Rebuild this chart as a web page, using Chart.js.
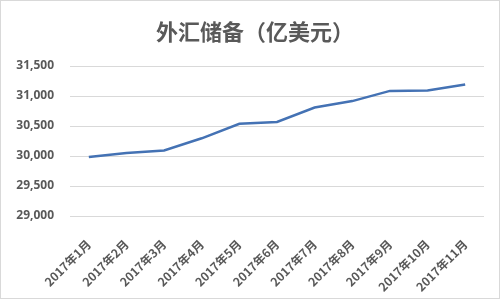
<!DOCTYPE html>
<html>
<head>
<meta charset="utf-8">
<script src="https://cdn.jsdelivr.net/npm/chart.js@4"></script>
<style>
html,body{margin:0;padding:0;background:#fff;}
#wrap{width:500px;height:299px;box-sizing:border-box;border:1px solid #d9d9d9;position:relative;}
canvas{display:block;}
</style>
</head>
<body>
<div id="wrap"><canvas id="c" width="498" height="297"></canvas></div>
<script>
const categories = ["2017年1月","2017年2月","2017年3月","2017年4月","2017年5月","2017年6月","2017年7月","2017年8月","2017年9月","2017年10月","2017年11月"];
const reserves = [29982, 30051, 30091, 30295, 30536, 30568, 30807, 30915, 31085, 31092, 31193];
const yTicks = [29000, 29500, 30000, 30500, 31000, 31500];
const titleText = "外汇储备（亿美元）";

const titlePlugin = {
  id: 'centeredTitle',
  afterDraw(chart) {
    const ctx = chart.ctx;
    ctx.save();
    ctx.fillStyle = '#595959';
    ctx.font = 'bold 22px "Noto Sans CJK SC", "Noto Sans", sans-serif';
    ctx.textAlign = 'center';
    ctx.textBaseline = 'middle';
    ctx.fillText(titleText, 254, 31);
    ctx.restore();
  }
};

new Chart(document.getElementById('c'), {
  type: 'line',
  data: {
    labels: categories,
    datasets: [{
      data: reserves,
      borderColor: '#4472b4',
      borderWidth: 2.5,
      pointRadius: 0,
      tension: 0,
      fill: false
    }]
  },
  plugins: [titlePlugin],
  options: {
    responsive: false,
    animation: false,
    layout: { padding: { left: 4, right: 15, top: 65, bottom: 0 } },
    plugins: {
      legend: { display: false },
      tooltip: { enabled: false },
      title: { display: false }
    },
    scales: {
      x: {
        offset: true,
        grid: { display: false },
        border: { display: false },
        afterFit: (axis) => { axis.height = 82; },
        ticks: {
          minRotation: 45, maxRotation: 45,
          color: '#595959',
          padding: 13,
          font: { family: '"Noto Sans CJK SC", "Noto Sans", sans-serif', size: 12, weight: 'bold' }
        }
      },
      y: {
        min: yTicks[0],
        max: yTicks[yTicks.length - 1],
        afterBuildTicks: (axis) => { axis.ticks = yTicks.map(v => ({ value: v })); },
        afterFit: (axis) => { axis.width = 65; },
        grid: { color: '#d9d9d9', lineWidth: 1, drawTicks: false },
        border: { display: false },
        ticks: {
          color: '#595959',
          padding: 16,
          font: { family: '"Open Sans", "Noto Sans", sans-serif', size: 12, weight: 'bold' },
          callback: (v) => v.toLocaleString('en-US')
        }
      }
    }
  }
});
</script>
</body>
</html>
